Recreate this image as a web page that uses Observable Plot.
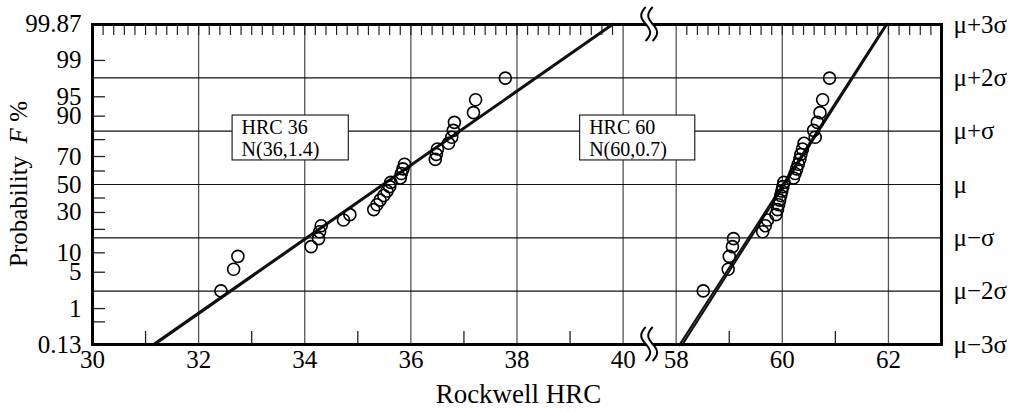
<!DOCTYPE html>
<html><head><meta charset="utf-8">
<script src="https://cdn.jsdelivr.net/npm/d3@7"></script>
<script src="https://cdn.jsdelivr.net/npm/@observablehq/plot@0.6"></script>
<style>body{margin:0;background:#fff} svg{display:block}</style>
</head><body><div id="chart"></div>
<script>
// ---- data ----
const hrc36 = [32.42, 32.66, 32.74, 34.12, 34.26, 34.28, 34.31, 34.73, 34.85, 35.30, 35.36, 35.42, 35.49, 35.55, 35.60, 35.62, 35.80, 35.82, 35.85, 35.88, 36.46, 36.48, 36.50, 36.71, 36.77, 36.80, 36.82, 37.18, 37.22, 37.78];
const hrc60 = [58.51, 58.98, 59.00, 59.06, 59.08, 59.63, 59.68, 59.72, 59.88, 59.91, 59.93, 59.95, 59.97, 59.99, 60.01, 60.03, 60.21, 60.24, 60.27, 60.30, 60.33, 60.35, 60.38, 60.41, 60.62, 60.59, 60.66, 60.71, 60.76, 60.89];
const probF = [2.3, 5.6, 8.9, 12.2, 15.5, 18.8, 22.0, 25.3, 28.6, 31.9, 35.2, 38.5, 41.8, 45.1, 48.4, 51.6, 54.9, 58.2, 61.5, 64.8, 68.1, 71.4, 74.7, 78.0, 81.2, 84.5, 87.8, 91.1, 94.4, 97.7];
// fitted lines: HRC value where each line meets 0.13 % and 99.87 %
const fitEnds = [0.13, 99.87];
const fit36a = [31.12, 39.80];
const fit36b = [31.16, 39.83];
const fit60a = [58.06, 61.96];
const fit60b = [58.11, 61.98];
const xTickValues = [30, 32, 34, 36, 38, 40, 58, 60, 62];
const xGridValues = [32, 34, 36, 38, 40, 58, 60, 62];
const xOddTicks = [31, 33, 35, 37, 39, 59, 61];
const probLabels = [0.13, 1, 5, 10, 30, 50, 70, 90, 95, 99, 99.87];
const probTickValues = [0.5, 1, 5, 10, 20, 30, 40, 60, 70, 80, 90, 95, 99];
const sigmaLevels = [-3, -2, -1, 0, 1, 2, 3];
const sigmaLabels = ["μ−3σ", "μ−2σ", "μ−σ", "μ", "μ+σ", "μ+2σ", "μ+3σ"];
const noteText = ["HRC 36\nN(36,1.4)", "HRC 60\nN(60,0.7)"];
const noteLeft = [32.64, 39.19];
const noteRight = [34.83, 58.36];
const noteTopF = [90.2, 90.2];
const noteBottomF = [67.4, 67.4];

// inverse of the standard normal CDF (probability-paper scale)
function probit(p) {
  const a=[-3.969683028665376e+01,2.209460984245205e+02,-2.759285104469687e+02,1.383577518672690e+02,-3.066479806614716e+01,2.506628277459239e+00];
  const b=[-5.447609879822406e+01,1.615858368580409e+02,-1.556989798598866e+02,6.680131188771972e+01,-1.328068155288572e+01];
  const c=[-7.784894002430293e-03,-3.223964580411365e-01,-2.400758277161838e+00,-2.549671348888893e+00,4.374664141464968e+00,2.938163982698783e+00];
  const d=[7.784695709041462e-03,3.224671290700398e-01,2.445134137142996e+00,3.754408661907416e+00];
  const pl=0.02425, ph=1-pl; let q, r;
  if (p < pl) { q=Math.sqrt(-2*Math.log(p)); return (((((c[0]*q+c[1])*q+c[2])*q+c[3])*q+c[4])*q+c[5])/((((d[0]*q+d[1])*q+d[2])*q+d[3])*q+1); }
  if (p <= ph) { q=p-0.5; r=q*q; return (((((a[0]*r+a[1])*r+a[2])*r+a[3])*r+a[4])*r+a[5])*q/(((((b[0]*r+b[1])*r+b[2])*r+b[3])*r+b[4])*r+1); }
  q=Math.sqrt(-2*Math.log(1-p)); return -(((((c[0]*q+c[1])*q+c[2])*q+c[3])*q+c[4])*q+c[5])/((((d[0]*q+d[1])*q+d[2])*q+d[3])*q+1);
}
const Z = f => probit(f / 100);

// ---- tables built from the arrays ----
const points = [
  ...hrc36.map((v, i) => ({hrc: v, z: Z(probF[i])})),
  ...hrc60.map((v, i) => ({hrc: v, z: Z(probF[i])}))
];
const fitRows = [];
[fit36a, fit36b, fit60a, fit60b].forEach((f, k) => f.forEach((v, j) => fitRows.push({id: k, hrc: v, z: Z(fitEnds[j])})));
const notes = noteText.map((t, i) => ({text: t, x1: noteLeft[i], x2: noteRight[i], y1: Z(noteTopF[i]), y2: Z(noteBottomF[i])}));
const labelZ = probLabels.map(Z);
const labelMap = new Map(labelZ.map((z, i) => [z, String(probLabels[i])]));
const tickZ = probTickValues.map(Z);
const topTicks = [...d3.range(30.2, 39.95, 0.2), ...d3.range(58.2, 62.95, 0.2)];

const W = 1021, H = 412, L = 92, R = 941, T = 24, B = 344;
const unit = (R - L) / 16;
const FONT = "'Liberation Serif', 'Times New Roman', Times, serif";

const plot = Plot.plot({
  width: W, height: H,
  marginLeft: L, marginRight: W - R, marginTop: T, marginBottom: H - B,
  style: {fontFamily: FONT, fontSize: "25px", background: "white", color: "black", overflow: "visible"},
  x: {type: "linear", domain: [30, 40, 58, 63], range: [L, L + 10 * unit, L + 11 * unit, R]},
  y: {domain: [-3, 3]},
  marks: [
    Plot.ruleX(xGridValues, {stroke: "#555", strokeWidth: 1.3}),
    Plot.ruleY([-2, -1, 0, 1, 2], {stroke: "#111", strokeWidth: 1.1}),
    Plot.ruleX(topTicks, {stroke: "#222", strokeWidth: 1.2, insetBottom: (B - T) - 11}),
    Plot.ruleX(xOddTicks, {stroke: "#222", strokeWidth: 1.3, insetTop: (B - T) - 13}),
    Plot.ruleY(tickZ, {stroke: "#222", strokeWidth: 1.3, insetRight: (R - L) - 13}),
    Plot.line(fitRows, {x: "hrc", y: "z", z: "id", stroke: "#111", strokeWidth: 2}),
    Plot.rect(notes, {x1: "x1", x2: "x2", y1: "y1", y2: "y2", fill: "white", stroke: "#111", strokeWidth: 1.1}),
    Plot.text(notes, {x: "x1", y: "y1", text: "text", textAnchor: "start", lineAnchor: "top", dx: 9, dy: 3, fontSize: 20, lineHeight: 1.1, fill: "black"}),
    Plot.dot(points, {x: "hrc", y: "z", r: 6, stroke: "black", strokeWidth: 1.6, fill: "none"}),
    Plot.frame({stroke: "black", strokeWidth: 3}),
    Plot.axisX(xTickValues, {anchor: "bottom", tickSize: 0, tickPadding: 6, fontSize: 25, label: null}),
    Plot.axisY(labelZ, {anchor: "left", tickSize: 0, tickPadding: 11, fontSize: 25, label: null, tickFormat: d => labelMap.get(d)}),
    Plot.axisY(sigmaLevels, {anchor: "right", tickSize: 0, tickPadding: 12, fontSize: 25, label: null, tickFormat: d => sigmaLabels[sigmaLevels.indexOf(d)]})
  ]
});

// axis break symbols and axis titles
const svg = d3.select(plot);
const sx = plot.scale("x"), sy = plot.scale("y");
const bx = sx.apply(49);
const wave = (off) => d3.range(0, 21).map(k => { const t = k / 10 - 1; return [off + 4.5 * Math.sin(Math.PI * t), 17 * t]; });
[sy.apply(3), sy.apply(-3)].forEach(cy => {
  const g = svg.append("g").attr("transform", `translate(${bx},${cy})`);
  const left = wave(-3.5), right = wave(3.5);
  g.append("path").attr("d", d3.line()([...left, ...right.slice().reverse()]) + "Z").attr("fill", "white").attr("stroke", "none");
  [left, right].forEach(pts => g.append("path").attr("d", d3.line().curve(d3.curveBasis)(pts)).attr("fill", "none").attr("stroke", "black").attr("stroke-width", 2));
});
svg.append("text").attr("x", (L + R) / 2 + 2).attr("y", 403).attr("text-anchor", "middle")
  .attr("font-family", FONT).attr("font-size", 27).attr("fill", "black").text("Rockwell HRC");
const yl = svg.append("text").attr("transform", `translate(27,${184}) rotate(-90)`).attr("text-anchor", "middle")
  .attr("font-family", FONT).attr("font-size", 25).attr("fill", "black");
yl.append("tspan").text("Probability  ");
yl.append("tspan").attr("font-style", "italic").text("F");
yl.append("tspan").text(" %");

document.getElementById("chart").appendChild(plot);
</script>
</body></html>
